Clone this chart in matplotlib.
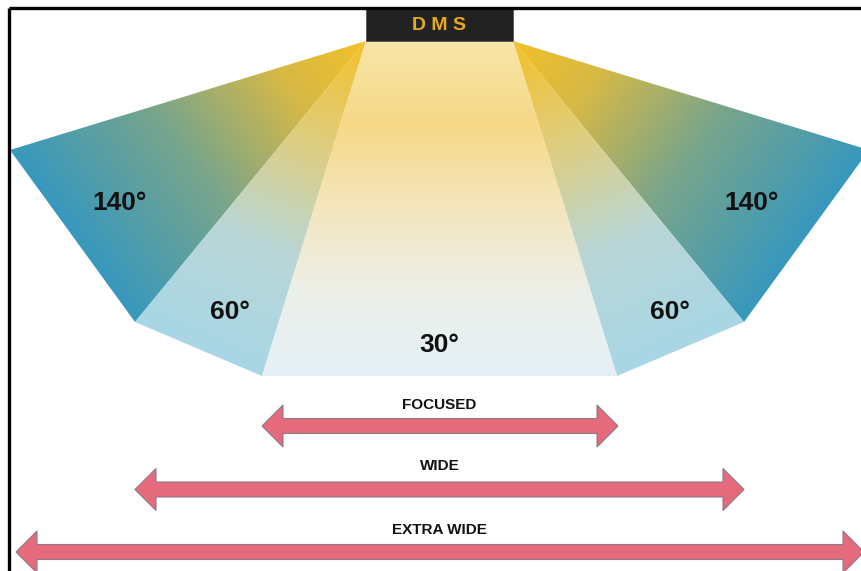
import numpy as np
import matplotlib
matplotlib.use("Agg")
import matplotlib.pyplot as plt
from matplotlib.patches import Polygon, Rectangle

# ---- data ----
beam_angles = [140, 60, 30]
beam_labels = ["140°", "60°", "30°"]
coverage_labels = ["FOCUSED", "WIDE", "EXTRA WIDE"]
sensor_label = "D M S"

W, H = 861, 571
fig = plt.figure(figsize=(W / 100, H / 100), dpi=100)
ax = fig.add_axes([0, 0, 1, 1])
ax.set_xlim(0, W)
ax.set_ylim(H, 0)
ax.axis("off")
plt.rcParams["font.family"] = ["Liberation Sans", "DejaVu Sans"]

cx = 439.5
apexL, apexR = (366.0, 41.0), (513.0, 41.0)
yy, xx = np.mgrid[0:H, 0:W] + 0.5


def mirror(p):
    return (2 * cx - p[0], p[1])


def lin_t(apex, p1, p2):
    d = np.array(p2) - np.array(p1)
    n = np.array([-d[1], d[0]])
    den = (np.array(p1) - np.array(apex)) @ n
    t = ((xx - apex[0]) * n[0] + (yy - apex[1]) * n[1]) / den
    return np.clip(t, 0, 1)


def ramp(t, stops):
    pos = [s[0] for s in stops]
    img = np.zeros(t.shape + (3,))
    for c in range(3):
        img[..., c] = np.interp(t, pos, [s[1][c] / 255 for s in stops])
    return img


def fill(poly_pts, img):
    patch = Polygon(poly_pts, closed=True, facecolor="none", edgecolor="none")
    ax.add_patch(patch)
    im = ax.imshow(img, extent=(0, W, H, 0), interpolation="bilinear", aspect="auto", zorder=1)
    im.set_clip_path(patch)


outer140L = [(10, 150), (135, 322)]
outer60L = [(135, 322), (262, 376)]
stops140 = [(0, (243, 192, 40)), (0.25, (215, 185, 70)), (0.6, (120, 165, 140)), (1, (55, 152, 190))]
stops60 = [(0, (243, 192, 40)), (0.3, (225, 205, 120)), (0.65, (185, 215, 215)), (1, (168, 214, 230))]

for side in ("L", "R"):
    if side == "L":
        a, o140, o60 = apexL, outer140L, outer60L
    else:
        a = apexR
        o140 = [mirror(p) for p in outer140L][::-1]
        o60 = [mirror(p) for p in outer60L][::-1]
    fill([a] + o140, ramp(lin_t(a, *o140), stops140))
    fill([a] + o60, ramp(lin_t(a, *o60), stops60))

# centre 30 deg beam
poly30 = [apexL, apexR, (617, 376), (262, 376)]
t30 = np.clip((yy - 41) / 335, 0, 1)
stops30 = [(0, (248, 230, 168)), (0.25, (246, 216, 135)), (0.5, (244, 230, 190)),
           (0.75, (236, 239, 232)), (1, (228, 240, 247))]
fill(poly30, ramp(t30, stops30))

# DMS box
ax.add_patch(Rectangle((366, 9), 147, 32, facecolor="#222222", edgecolor="#555555", lw=0.6, zorder=3))
ax.text(cx, 25, sensor_label, ha="center", va="center", fontsize=14, fontweight="bold",
        color="#E9A91F", zorder=4)

# frame
ax.plot([8.5, W], [7.5, 7.5], color="black", lw=2.4, zorder=5, solid_capstyle="butt")
ax.plot([8.5, 8.5], [7.5, H], color="black", lw=2.4, zorder=5, solid_capstyle="butt")

# beam labels
label_pos = {140: [(120, 203), (752, 203)], 60: [(230, 312), (670, 312)], 30: [(cx, 345)]}
for ang, lab in zip(beam_angles, beam_labels):
    for (x, y) in label_pos[ang]:
        ax.text(x, y, lab, ha="center", va="center", fontsize=19, fontweight="bold", color="#111111", zorder=4)


# arrows
def darrow(x0, x1, yc, sh=7.5, hh=21, hl=21):
    pts = [(x0, yc), (x0 + hl, yc - hh), (x0 + hl, yc - sh), (x1 - hl, yc - sh), (x1 - hl, yc - hh),
           (x1, yc), (x1 - hl, yc + hh), (x1 - hl, yc + sh), (x0 + hl, yc + sh), (x0 + hl, yc + hh)]
    ax.add_patch(Polygon(pts, closed=True, facecolor="#E46A7C", edgecolor="#8E7A86", lw=0.8, zorder=3))


arrow_spans = [(262, 618), (135, 744), (16, 864)]
arrow_y = [426, 489.5, 552]
label_y = [405, 466, 530]
for (x0, x1), ya, yl, lab in zip(arrow_spans, arrow_y, label_y, coverage_labels):
    darrow(x0, x1, ya)
    ax.text(cx, yl, lab, ha="center", va="center", fontsize=11, fontweight="bold", color="#111111", zorder=4)

ax.set_xlim(0, W)
ax.set_ylim(H, 0)
fig.savefig("out.png", dpi=100)
